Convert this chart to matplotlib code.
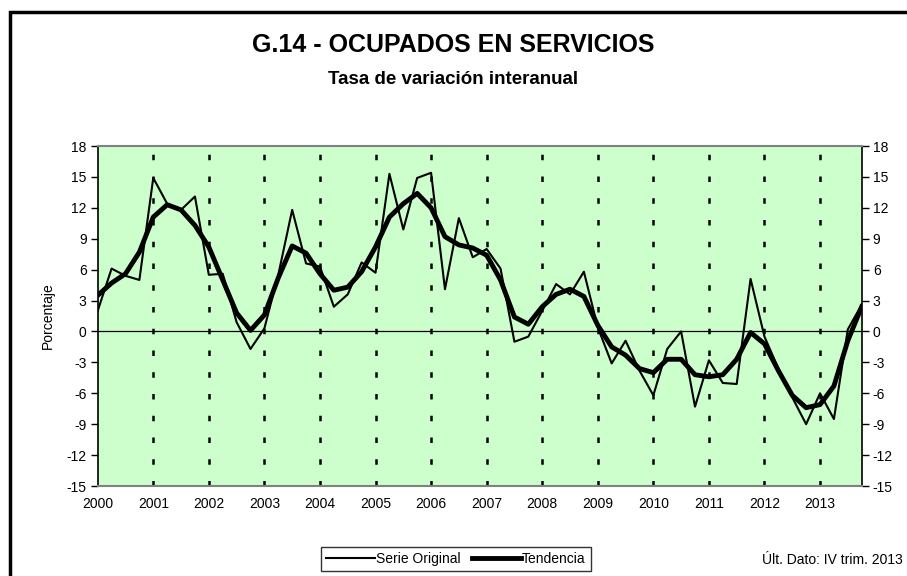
import matplotlib.pyplot as plt
from matplotlib.patches import Rectangle

# Quarterly data, I trim. 2000 - IV trim. 2013
years = list(range(2000, 2014))

serie_original = [
    2.0, 6.1, 5.4, 5.0,      # 2000
    14.9, 12.4, 11.8, 13.1,  # 2001
    5.5, 5.6, 0.9, -1.7,     # 2002
    0.3, 5.5, 11.8, 6.6,     # 2003
    6.3, 2.4, 3.6, 6.7,      # 2004
    5.7, 15.3, 9.9, 14.9,    # 2005
    15.4, 4.1, 11.0, 7.2,    # 2006
    8.0, 6.1, -1.0, -0.5,    # 2007
    2.0, 4.6, 3.6, 5.8,      # 2008
    0.4, -3.1, -0.9, -3.8,   # 2009
    -6.2, -1.7, 0.0, -7.3,   # 2010
    -2.8, -5.0, -5.1, 5.1,   # 2011
    -0.5, -3.6, -6.4, -9.0,  # 2012
    -6.0, -8.5, 0.2, 2.6,    # 2013
]

tendencia = [
    3.5, 4.7, 5.6, 7.7,
    11.1, 12.3, 11.8, 10.3,
    8.2, 5.0, 1.8, 0.1,
    1.6, 5.2, 8.3, 7.6,
    5.6, 4.0, 4.3, 5.8,
    8.2, 11.1, 12.4, 13.4,
    12.0, 9.2, 8.4, 8.1,
    7.4, 5.0, 1.4, 0.7,
    2.4, 3.6, 4.1, 3.4,
    0.6, -1.5, -2.3, -3.6,
    -4.0, -2.7, -2.7, -4.2,
    -4.4, -4.2, -2.7, -0.1,
    -1.2, -3.8, -6.2, -7.4,
    -7.1, -5.3, -0.9, 2.4,
]

y_ticks = list(range(-15, 19, 3))

W, H = 907, 576
plt.rcParams["font.family"] = ["Liberation Sans", "DejaVu Sans"]
plt.rcParams["axes.unicode_minus"] = False
fig = plt.figure(figsize=(W / 100, H / 100), dpi=100)

# outer frame of the chart
fig.patches.append(Rectangle((10 / W, -0.1), 1.0, 1 - 12 / H + 0.1,
                             transform=fig.transFigure, fill=False,
                             edgecolor="black", linewidth=2.5))

ax = fig.add_axes([97.7 / W, 1 - 486 / H, (861.7 - 97.7) / W, (486 - 146) / H])
ax.set_facecolor("#CCFFCC")

x = list(range(len(serie_original)))
ax.plot(x, serie_original, color="black", linewidth=1.5, label="Serie Original", zorder=3)
ax.plot(x, tendencia, color="black", linewidth=3.5, label="Tendencia", zorder=4)

# dotted lines at each year start
for i in range(4, len(x), 4):
    ax.axvline(i, color="black", linewidth=1.8, linestyle=(0, (2.2, 6.5)), zorder=2)
ax.axhline(0, color="black", linewidth=0.9, zorder=2)

ax.set_xlim(0, len(x) - 1)
ax.set_ylim(-15, 18)
ax.set_yticks(y_ticks)
ax.set_xticks(range(0, len(x), 4))
ax.set_xticklabels([str(y) for y in years])
ax.tick_params(axis="x", length=0, pad=8, labelsize=10)
ax.tick_params(axis="y", direction="out", length=5, width=1, labelsize=10,
               left=True, right=True, labelleft=True, labelright=True, pad=3)

for side in ["top", "bottom"]:
    ax.spines[side].set_color("#808080")
    ax.spines[side].set_linewidth(1.5)
for side in ["left", "right"]:
    ax.spines[side].set_color("black")
    ax.spines[side].set_linewidth(1.2)

ax.set_ylabel("Porcentaje", fontsize=10, labelpad=8)

fig.text(0.5, 1 - 45 / H, "G.14 - OCUPADOS EN SERVICIOS", ha="center", va="center",
         fontsize=18, fontweight="bold")
fig.text(0.5, 1 - 80 / H, "Tasa de variación interanual", ha="center", va="center",
         fontsize=13.5, fontweight="bold")

leg = ax.legend(loc="center", bbox_to_anchor=(456 / W, 1 - 559 / H),
                bbox_transform=fig.transFigure, ncol=2, frameon=True,
                fancybox=False, edgecolor="black", fontsize=10,
                handlelength=3.5, handletextpad=0.1, columnspacing=0.8,
                borderpad=0.35)
leg.get_frame().set_linewidth(1.0)

fig.text(903 / W, 1 - 560 / H, "Últ. Dato: IV trim. 2013", ha="right", va="center",
         fontsize=10)

fig.savefig("out.png", dpi=100)
